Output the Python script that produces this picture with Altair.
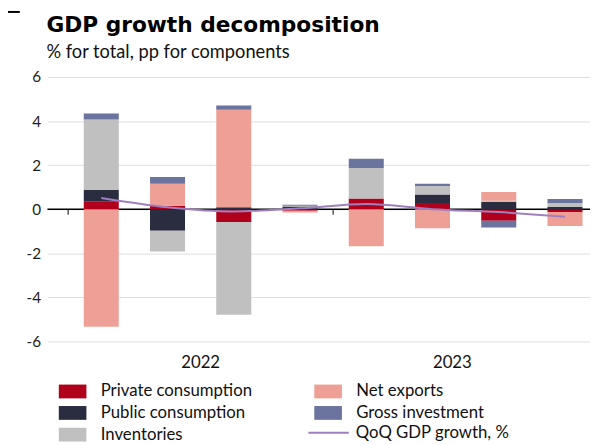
import altair as alt
import pandas as pd

# ---- data ----
quarters = ["2022 Q1", "2022 Q2", "2022 Q3", "2022 Q4",
            "2023 Q1", "2023 Q2", "2023 Q3", "2023 Q4"]
quarter_pos = [0, 1, 2, 3, 4, 5, 6, 7]

components = ["Private consumption", "Public consumption", "Inventories",
              "Net exports", "Gross investment"]
private_consumption = [0.34, 0.16, -0.58, -0.07, 0.49, 0.28, -0.52, -0.12]
public_consumption = [0.55, -0.98, 0.09, 0.12, 0.00, 0.39, 0.33, 0.10]
inventories = [3.18, -0.94, -4.21, 0.04, 1.38, 0.39, 0.06, 0.18]
net_exports = [-5.33, 1.00, 4.43, -0.08, -1.68, -0.86, 0.39, -0.64]
gross_investment = [0.28, 0.30, 0.19, 0.04, 0.42, 0.10, -0.31, 0.18]
qoq_growth = [0.51, 0.09, -0.10, 0.04, 0.24, 0.00, -0.13, -0.34]

years = ["2022", "2023"]
year_label_pos = [1.5, 5.3]
year_boundaries = [-0.5, 3.5]
y_ticks = [-6, -4, -2, 0, 2, 4, 6]

title_text = "GDP growth decomposition"
subtitle_text = "% for total, pp for components"

component_colors = {
    "Private consumption": "#b0001c",
    "Public consumption": "#2a2d40",
    "Inventories": "#c0c0c0",
    "Net exports": "#eea096",
    "Gross investment": "#6b739f",
}
line_name = "QoQ GDP growth, %"
line_color = "#9f7fbf"

FONT = "Lato"

series = [private_consumption, public_consumption, inventories,
          net_exports, gross_investment]
rows = []
for ci, comp in enumerate(components):
    for q, v in zip(quarter_pos, series[ci]):
        rows.append({"pos": q, "quarter": quarters[q], "component": comp,
                     "ord": ci, "value": v})
bars_df = pd.DataFrame(rows)
line_df = pd.DataFrame({"pos": quarter_pos, "growth": qoq_growth,
                        "series": [line_name] * len(quarter_pos)})

x_scale = alt.Scale(domain=[-0.738, 7.303], nice=False, zero=False)
y_scale = alt.Scale(domain=[-6, 6], nice=False, zero=False)


def y_axis():
    return alt.Axis(values=y_ticks, title=None, domain=False, ticks=False,
                    labelPadding=7, labelFontSize=15.5, labelFont=FONT,
                    labelColor="#222", gridColor="#dddddd", gridWidth=1,
                    labelExpr="'' + datum.value")


zero = alt.Chart(pd.DataFrame({"v": [0]})).mark_rule(
    color="black", strokeWidth=1.5
).encode(y=alt.Y("v:Q", scale=y_scale, axis=y_axis()))

bars = alt.Chart(bars_df).mark_bar(size=35.5, orient="vertical").encode(
    x=alt.X("pos:Q", scale=x_scale, axis=None),
    y=alt.Y("value:Q", scale=y_scale, stack="zero", axis=y_axis()),
    color=alt.Color("component:N",
                    scale=alt.Scale(domain=components,
                                    range=[component_colors[c] for c in components]),
                    legend=alt.Legend(orient="none", legendX=17, legendY=310,
                                      columns=2, padding=0, title=None,
                                      symbolType="M-2,-1H2V1H-2Z", symbolSize=196,
                                      symbolStrokeWidth=0, labelOffset=20,
                                      labelFontSize=17, labelFont=FONT,
                                      labelColor="#111", rowPadding=4,
                                      columnPadding=62, labelLimit=400)),
    order=alt.Order("ord:Q", sort="ascending"),
)

ticks = alt.Chart(pd.DataFrame({"b": year_boundaries,
                                "y0": [0, 0], "y1": [-0.25, -0.25]})).mark_rule(
    color="black", strokeWidth=1
).encode(x=alt.X("b:Q", scale=x_scale, axis=None),
         y=alt.Y("y0:Q", scale=y_scale, axis=y_axis()), y2="y1:Q")

line = alt.Chart(line_df).mark_line(interpolate="monotone", strokeWidth=2).encode(
    x=alt.X("pos:Q", scale=x_scale, axis=None),
    y=alt.Y("growth:Q", scale=y_scale, axis=y_axis()),
    stroke=alt.Stroke("series:N",
                      scale=alt.Scale(domain=[line_name], range=[line_color]),
                      legend=alt.Legend(orient="none", legendX=276.5, legendY=352,
                                        padding=0, title=None,
                                        symbolType="M-2.93,0H2.93", symbolSize=196,
                                        symbolStrokeWidth=2, labelOffset=19,
                                        labelFontSize=17, labelFont=FONT,
                                        labelColor="#111", labelLimit=400)),
)

years_txt = alt.Chart(pd.DataFrame({"year": years, "p": year_label_pos})).mark_text(
    font=FONT, fontSize=17, color="#111", baseline="middle"
).encode(x=alt.X("p:Q", scale=x_scale, axis=None), y=alt.value(290), text="year:N")

title_df = pd.DataFrame({"t": [title_text]})
title_mark = alt.Chart(title_df).mark_text(
    font="DejaVu Sans", fontSize=22, fontWeight="bold", color="black",
    align="left", baseline="alphabetic"
).encode(x=alt.value(-1), y=alt.value(-46), text="t:N")

subtitle_df = pd.DataFrame({"t": [subtitle_text]})
subtitle_mark = alt.Chart(subtitle_df).mark_text(
    font=FONT, fontSize=18.5, color="#111", align="left", baseline="alphabetic"
).encode(x=alt.value(-1), y=alt.value(-19), text="t:N")

accent = alt.Chart(pd.DataFrame({"a": [0]})).mark_rule(
    color="black", strokeWidth=2
).encode(x=alt.value(-40), x2=alt.value(-28), y=alt.value(-66))

chart = alt.layer(zero, bars, ticks, line, years_txt, title_mark, subtitle_mark,
                  accent).properties(
    width=550, height=268,
    padding={"left": 40, "top": 67, "right": 0, "bottom": 102},
    autosize=alt.AutoSizeParams(type="none"),
).configure_view(stroke=None)

chart.save("out.html", embed_options={"renderer": "svg", "actions": False})
